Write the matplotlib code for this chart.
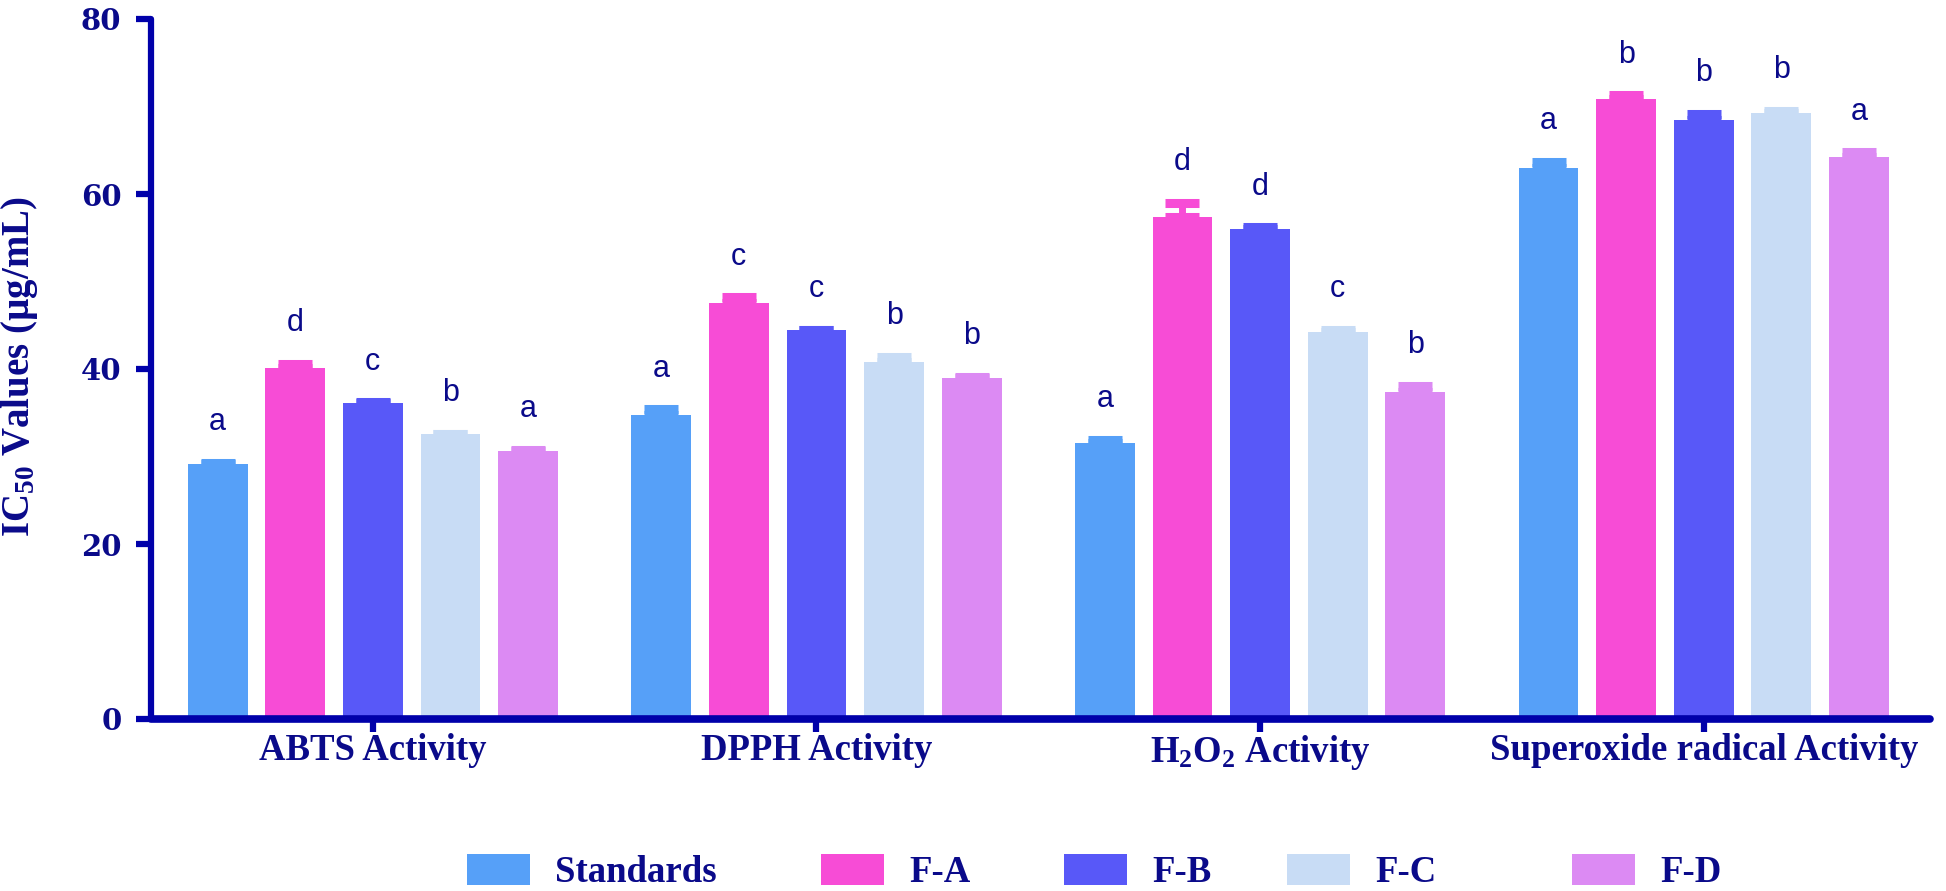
import numpy as np
import matplotlib
matplotlib.use('Agg')
from matplotlib import pyplot as plt
from matplotlib.patches import Patch
from matplotlib.transforms import ScaledTranslation

# data (IC50, ug/mL)
groups = ['ABTS Activity', 'DPPH Activity', 'H$_2$O$_2$ Activity', 'Superoxide radical Activity']
series = ['Standards', 'F-A', 'F-B', 'F-C', 'F-D']
standards = [29.2, 34.8, 31.6, 63.0]
fa = [40.1, 47.6, 57.4, 70.9]
fb = [36.1, 44.5, 56.0, 68.5]
fc = [32.6, 40.8, 44.2, 69.3]
fd = [30.6, 39.0, 37.4, 64.2]
standards_err = [0.1, 0.6, 0.3, 0.7]
fa_err = [0.5, 0.6, 1.6, 0.4]
fb_err = [0.1, 0.0, 0.2, 0.7]
fc_err = [0.0, 0.6, 0.3, 0.2]
fd_err = [0.2, 0.1, 0.7, 0.6]
letters_std = ['a', 'a', 'a', 'a']
letters_fa = ['d', 'c', 'd', 'b']
letters_fb = ['c', 'c', 'd', 'b']
letters_fc = ['b', 'b', 'c', 'b']
letters_fd = ['a', 'b', 'b', 'a']

colors = ['#56a0f8', '#f74cd6', '#5858f8', '#c8dcf5', '#dc8af3']
axis_col = '#0000aa'
text_col = '#0a0a8a'

plt.rcParams['mathtext.fontset'] = 'custom'
plt.rcParams['mathtext.rm'] = 'Liberation Serif:bold'
plt.rcParams['mathtext.bf'] = 'Liberation Serif:bold'
plt.rcParams['mathtext.default'] = 'rm'

vals = [standards, fa, fb, fc, fd]
errs = [standards_err, fa_err, fb_err, fc_err, fd_err]
letters = [letters_std, letters_fa, letters_fb, letters_fc, letters_fd]

fig = plt.figure(figsize=(19.46, 8.91), dpi=100)
ax = fig.add_axes([0.0776, 1 - 719 / 891, 0.9142, 700 / 891])

x = np.arange(len(groups))
pitch = 0.175
width = 0.135
for i in range(5):
    xs = x + (i - 2) * pitch
    ax.bar(xs, vals[i], width, color=colors[i], zorder=2)
    ax.errorbar(xs, vals[i], yerr=[np.zeros(4), errs[i]], fmt='none', ecolor=colors[i],
                elinewidth=5, capsize=12, capthick=6.5, zorder=3)
    for xx, v, e, l in zip(xs, vals[i], errs[i], letters[i]):
        ax.text(xx, v + e + 2.9, l, ha='center', va='bottom', fontsize=22,
                family='Liberation Sans', color=text_col)

ax.set_xlim(-0.5, 3.51)
ax.set_ylim(0, 80)
ax.set_yticks([0, 20, 40, 60, 80])
ax.set_xticks(x)
ax.set_xticklabels(groups, fontsize=26.5, family='Liberation Serif', fontweight='bold', color=text_col)
# last label sits a bit right of its tick in the original
lbl = ax.get_xticklabels()[3]
lbl.set_transform(lbl.get_transform() + ScaledTranslation(0.3, 0, fig.dpi_scale_trans))
for t in ax.get_yticklabels():
    t.set_fontsize(21)
    t.set_family('DejaVu Serif')
    t.set_fontweight('bold')
    t.set_color(text_col)
ax.tick_params(axis='y', color=axis_col, width=4.5, length=10.8, pad=10.5)
ax.tick_params(axis='x', color=axis_col, width=4.5, length=9.4, pad=1)
for s in ['top', 'right']:
    ax.spines[s].set_visible(False)
ax.spines['left'].set_linewidth(4.5)
ax.spines['bottom'].set_linewidth(5.5)
for s in ['left', 'bottom']:
    ax.spines[s].set_color(axis_col)
    ax.spines[s].set_capstyle('round')

fig.text(20 / 1946, 1 - 367 / 891, 'IC$_{50}$ Values (\u00b5g/mL)', rotation=90, ha='center', va='center',
         fontsize=28, family='Liberation Serif', fontweight='bold', color=text_col)

# legend, one entry per box so spacing follows the original
leg_x = [467, 821, 1064, 1287, 1572]
for i in range(5):
    h = Patch(facecolor=colors[i], edgecolor='none', label=series[i])
    lg = fig.legend(handles=[h], loc='center left', bbox_to_anchor=(leg_x[i] / 1946, 1 - 872 / 891),
                    frameon=False, borderpad=0, borderaxespad=0, handlelength=1.7,
                    handleheight=0.9, handletextpad=0.7,
                    prop={'family': 'Liberation Serif', 'weight': 'bold', 'size': 26.5})
    for t in lg.get_texts():
        t.set_color(text_col)

fig.savefig('out.png', dpi=100)
